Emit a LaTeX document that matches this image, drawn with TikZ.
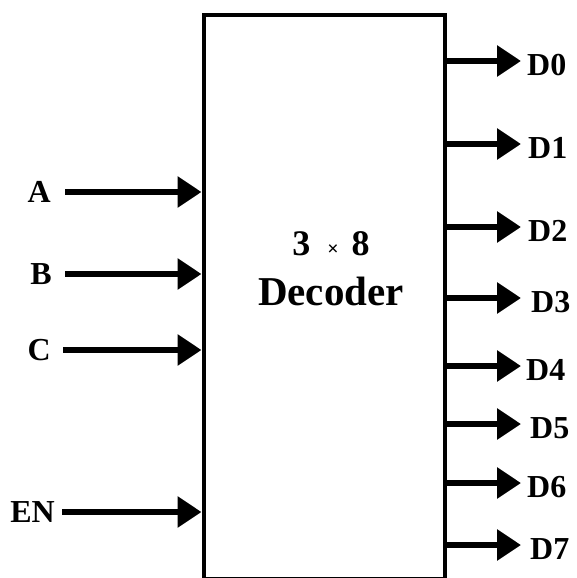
\documentclass[tikz,border=0pt]{standalone}
\usepackage{fontspec}
\setmainfont{Liberation Serif}
\usetikzlibrary{arrows.meta}
\begin{document}
\begin{tikzpicture}[x=1pt,y=-1pt,
  arr/.style={line width=6pt,-{Triangle[length=24pt,width=30pt]}},
  inlab/.style={font=\fontsize{32}{32}\selectfont\bfseries,inner sep=0pt,anchor=east,text height=21pt,text depth=0pt},
  outlab/.style={font=\fontsize{32}{32}\selectfont\bfseries,inner sep=0pt,anchor=west,text height=29pt,text depth=0pt},
  ttl/.style={inner sep=0pt,anchor=base}]
\useasboundingbox (0,0) rectangle (576,578);
\node[draw,line width=4.5pt,minimum width=241pt,minimum height=564pt,inner sep=0pt,anchor=north west] (box) at (201.5,13) {};
\node[ttl,font=\fontsize{36}{36}\selectfont\bfseries] (t1) at (331,255)
  {3\hspace{17pt}{\fontsize{20}{20}\selectfont ×}\hspace{13pt}8};
\node[ttl,font=\fontsize{41}{41}\selectfont\bfseries] (t2) at (331,305) {Decoder};
% inputs
\node[inlab] (A) at (51,192) {A};
\node[inlab] (B) at (52,274) {B};
\node[inlab] (C) at (51,350) {C};
\node[inlab] (EN) at (55,512) {EN};
\draw[arr] ([xshift=14pt]A.east) -- (box.west |- A.east);
\draw[arr] ([xshift=13pt]B.east) -- (box.west |- B.east);
\draw[arr] ([xshift=12pt]C.east) -- (box.west |- C.east);
\draw[arr] ([xshift=7pt]EN.east) -- (box.west |- EN.east);
% outputs
\node[outlab] (D0) at (527,61) {D0};
\node[outlab] (D1) at (528,144) {D1};
\node[outlab] (D2) at (528,227) {D2};
\node[outlab] (D3) at (531,298) {D3};
\node[outlab] (D4) at (526,366) {D4};
\node[outlab] (D5) at (530,424) {D5};
\node[outlab] (D6) at (527,483) {D6};
\node[outlab] (D7) at (530,545) {D7};
\foreach \d in {D0,D1,D2,D3,D4,D5,D6,D7}{
  \draw[arr] (box.east |- \d.west) -- (521,0 |- \d.west);
}
\end{tikzpicture}
\end{document}
